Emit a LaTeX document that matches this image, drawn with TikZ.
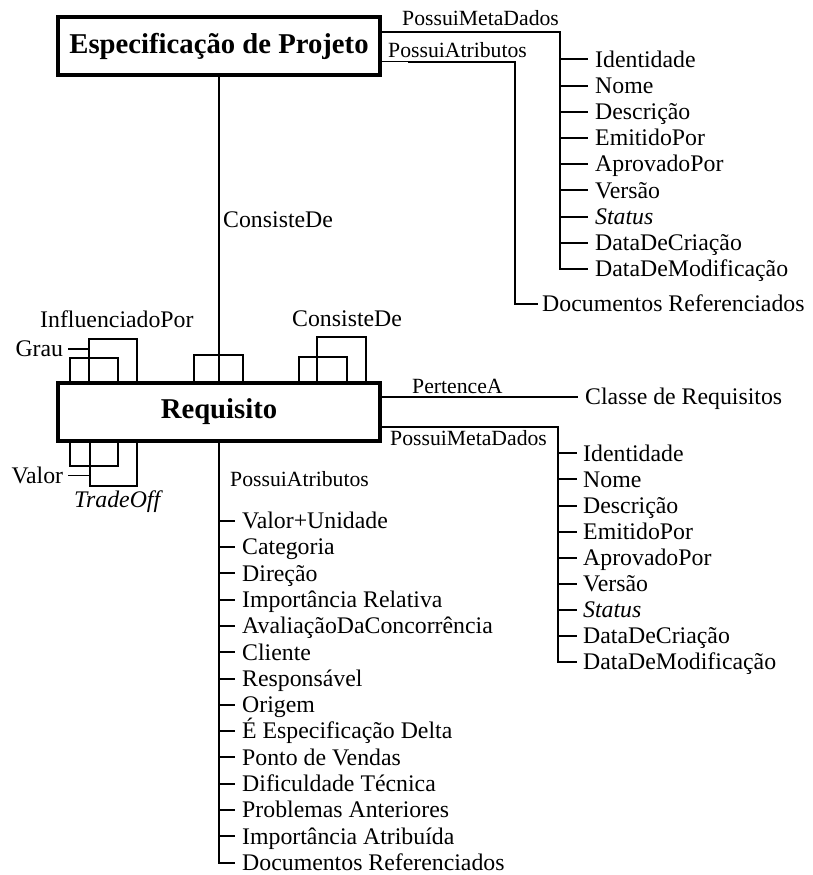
\documentclass[tikz,border=0pt]{standalone}
\usepackage{fontspec}
\setmainfont{Liberation Serif}
\begin{document}
\begin{tikzpicture}[x=1pt,y=-1pt,
  conn/.style={line width=2pt},
  thinconn/.style={line width=0.8pt},
  selfloop/.style={line width=1.8pt},
  entity/.style={draw, line width=4pt, minimum width=322pt, minimum height=58pt,
    inner sep=0pt, font=\bfseries\fontsize{28.7}{30}\selectfont},
  item/.style={anchor=west, inner xsep=7pt, inner ysep=0pt, text height=15.7pt,
    text depth=0pt, font=\fontsize{23.8}{26}\selectfont},
  rel/.style={anchor=base west, inner sep=0pt, font=\fontsize{21.7}{24}\selectfont},
  relbig/.style={anchor=base west, inner sep=0pt, font=\fontsize{23.8}{26}\selectfont},
]
\useasboundingbox (0,0) rectangle (813,875);

% the two entities
\node[entity] (ep)  at (219,46)  {Especificação de Projeto};
\node[entity] (req) at (219,412) {Requisito};

% ConsisteDe between specification and requirement
\draw[conn] (ep.south) -- (req.north);
\node[relbig] (lcons) at (223,227) {ConsisteDe};

% ---- metadata of the specification
\coordinate (tpm) at (560,31.7);
\node[rel] (ltpm) at (402,26) {PossuiMetaDados};
\foreach \t [count=\i] in {Identidade, Nome, Descrição, EmitidoPor, AprovadoPor,
    Versão, \textit{Status}, DataDeCriação, DataDeModificação}{
  \node[item] (a\i) at (588,{59.3+26.2*(\i-1)}) {\t};
  \draw[conn] (tpm |- a\i.west) -- (a\i.west);
}
\draw[conn] (ep.east |- tpm) -- (tpm) -- (tpm |- a9.west) -- (a9.west);

% ---- attributes of the specification
\coordinate (tpa0) at (408,61.7);
\coordinate (tpa) at (515,61.7);
\node[rel] (ltpa) at (388,57) {PossuiAtributos};
\node[item, inner xsep=4pt] (tdoc) at (538,304) {Documentos Referenciados};
\draw[thinconn] (ep.east |- tpa) -- (tpa0);
\draw[conn] (tpa0) -- (tpa) -- (tpa |- tdoc.west) -- (tdoc.west);

% ---- self relations of the requirement
\foreach \nm/\xx in {a/70, b/89.3, bb/90, c/118.3, d/137.3, e/194, f/242.7,
    g/299, h/316.7, i/346.7, j/365.7}
  \coordinate (x\nm) at (\xx,0);

% InfluenciadoPor (top left) with attribute Grau
\draw[selfloop] (req.north -| xa) -- ++(0,-22.7) -| (req.north -| xc);
\draw[selfloop] (req.north -| xb) -- ++(0,-41.7) -| (req.north -| xd);
\node[relbig] (linf) at (40,327.3) {InfluenciadoPor};
\node[item, anchor=east, inner xsep=5pt] (grau) at (68.3,348.8) {Grau};
\draw[selfloop] (grau.east) -- (grau.east -| xb);

% TradeOff (bottom left) with attribute Valor
\draw[selfloop] (req.south -| xa) -- ++(0,22.7) -| (req.south -| xc);
\draw[selfloop] (req.south -| xbb) -- ++(0,42.7) -| (req.south -| xd);
\node[relbig] (ltrade) at (74,507) {\textit{TradeOff}};
\node[item, anchor=east, inner xsep=5pt] (valor) at (68.3,475.5) {Valor};
\draw[selfloop] (valor.east) -- (valor.east -| xbb);

% ConsisteDe (centre and right)
\draw[selfloop] (req.north -| xe) -- ++(0,-26) -| (req.north -| xf);
\draw[selfloop] (req.north -| xg) -- ++(0,-24.3) -| (req.north -| xi);
\draw[selfloop] (req.north -| xh) -- ++(0,-44.3) -| (req.north -| xj);
\node[relbig] (lcons2) at (292,326) {ConsisteDe};

% ---- PertenceA
\node[item] (cls) at (578,396.7) {Classe de Requisitos};
\draw[conn] (req.east |- cls.west) -- (cls.west);
\node[rel] (lpert) at (412,393.3) {PertenceA};

% ---- metadata of the requirement
\coordinate (rpm) at (558.3,426.7);
\node[rel] (lrpm) at (390,445) {PossuiMetaDados};
\foreach \t [count=\i] in {Identidade, Nome, Descrição, EmitidoPor, AprovadoPor,
    Versão, \textit{Status}, DataDeCriação, DataDeModificação}{
  \node[item, inner xsep=6pt] (b\i) at (577,{453.3+26.1*(\i-1)}) {\t};
  \draw[conn] (rpm |- b\i.west) -- (b\i.west);
}
\draw[conn] (req.east |- rpm) -- (rpm) -- (rpm |- b9.west) -- (b9.west);

% ---- attributes of the requirement
\node[rel] (lrpa) at (230,486) {PossuiAtributos};
\foreach \t [count=\i] in {Valor+Unidade, Categoria, Direção, Importância Relativa,
    AvaliaçãoDaConcorrência, Cliente, Responsável, Origem, É Especificação Delta,
    Ponto de Vendas, Dificuldade Técnica, Problemas Anteriores,
    Importância Atribuída, Documentos Referenciados}{
  \node[item] (c\i) at (235,{520.7+26.3*(\i-1)}) {\t};
  \draw[conn] (req.south |- c\i.west) -- (c\i.west);
}
\draw[conn] (req.south) -- (req.south |- c14.west) -- (c14.west);
\end{tikzpicture}
\end{document}
